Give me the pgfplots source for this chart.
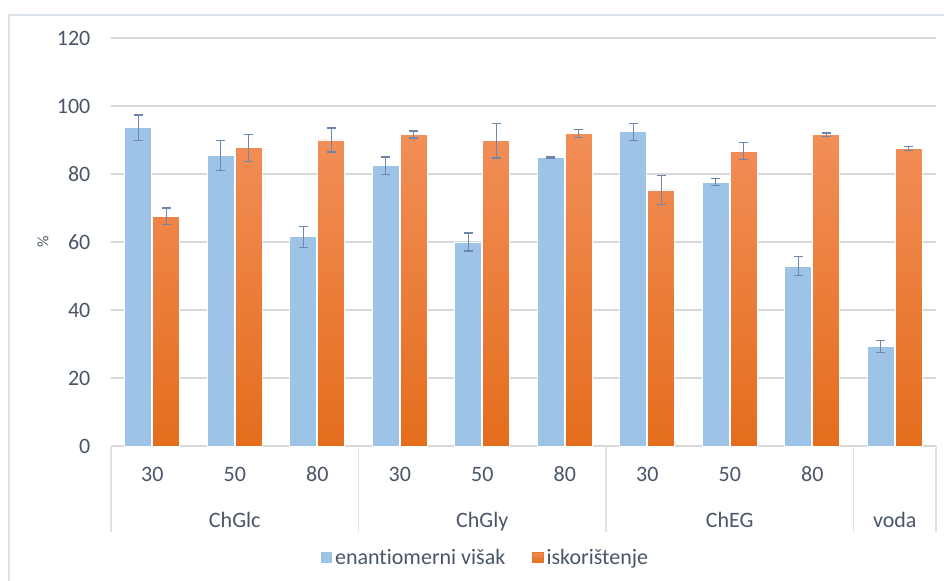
\documentclass[border=0pt]{standalone}
\usepackage{pgfplots}
\pgfplotsset{compat=1.18}
\usepackage{fontspec}
\setmainfont{Carlito}[Ligatures={NoCommon}]
\definecolor{blueb}{HTML}{9DC3E6}
\definecolor{orT}{HTML}{F28E58}
\definecolor{orB}{HTML}{E46D1C}
\definecolor{orL}{HTML}{EC7628}
\definecolor{txt}{HTML}{4A5568}
\definecolor{gridc}{HTML}{D9D9D9}
\definecolor{errc}{HTML}{6E86AA}
\definecolor{sepc}{HTML}{DDE3EA}
\begin{document}
\begin{tikzpicture}[font=\fontsize{11}{13}\selectfont]
\begin{axis}[name=ax, at={(0,0)}, anchor=south west,
  scale only axis, width=412.5pt, height=204pt,
  xmin=-0.5, xmax=9.5, ymin=0, ymax=120,
  ytick={0,20,...,120}, xtick=\empty,
  ymajorgrids, grid style={gridc, line width=0.8pt},
  major tick length=0pt,
  axis line style={draw=none},
  tick label style={font=\fontsize{11}{13}\selectfont},
  yticklabel style={text=txt, xshift=-6.8pt},
  /pgf/number format/assume math mode=true,
  ybar, bar width=13.5pt,
  clip=false,
  legend columns=2,
  legend style={at={(0.4545,-0.275)}, anchor=center, draw=none, fill=none,
    font=\fontsize{11}{13}\selectfont, text=txt,
    nodes={inner sep=1.5pt},
    /tikz/every even column/.append style={column sep=12pt}},
]
\addplot[bar shift=-7pt, fill=blueb, draw=white, line width=0.4pt,
  legend image code/.code={\fill[blueb] (0pt,-2.3pt) rectangle (5.2pt,2.9pt);},
  error bars/.cd, y dir=both, y explicit,
  error bar style={errc, line width=0.7pt},
  error mark options={rotate=90, errc, mark size=2.3pt, line width=0.7pt}]
  coordinates {
  (0,93.6) +- (0,3.8)
  (1,85.4) +- (0,4.4)
  (2,61.5) +- (0,3.1)
  (3,82.4) +- (0,2.6)
  (4,60.0) +- (0,2.6)
  (5,84.9) +- (0,0.2)
  (6,92.4) +- (0,2.5)
  (7,77.6) +- (0,1.0)
  (8,52.9) +- (0,2.8)
  (9,29.3) +- (0,1.8)
  };
\addlegendentry{enantiomerni višak}
\addplot[bar shift=7pt, top color=orT, bottom color=orB, draw=white, line width=0.4pt,
  legend image code/.code={\fill[orL] (0pt,-2.3pt) rectangle (5.2pt,2.9pt);},
  error bars/.cd, y dir=both, y explicit,
  error bar style={errc, line width=0.7pt},
  error mark options={rotate=90, errc, mark size=2.3pt, line width=0.7pt}]
  coordinates {
  (0,67.6) +- (0,2.4)
  (1,87.7) +- (0,4.0)
  (2,90.0) +- (0,3.5)
  (3,91.6) +- (0,1.0)
  (4,89.8) +- (0,5.1)
  (5,91.9) +- (0,1.1)
  (6,75.3) +- (0,4.2)
  (7,86.7) +- (0,2.5)
  (8,91.6) +- (0,0.5)
  (9,87.5) +- (0,0.6)
  };
\addlegendentry{iskorištenje}
% category separators
\draw[sepc, line width=0.8pt] (axis cs:-0.5,0) -- ([yshift=-43pt]axis cs:-0.5,0);
\draw[sepc, line width=0.8pt] (axis cs:2.5,0) -- ([yshift=-43pt]axis cs:2.5,0);
\draw[sepc, line width=0.8pt] (axis cs:5.5,0) -- ([yshift=-43pt]axis cs:5.5,0);
\draw[sepc, line width=0.8pt] (axis cs:8.5,0) -- ([yshift=-43pt]axis cs:8.5,0);
\draw[sepc, line width=0.8pt] (axis cs:9.5,0) -- ([yshift=-43pt]axis cs:9.5,0);
% level-1 labels
\node[anchor=base, text=txt] at ([yshift=-18pt]axis cs:0,0) {30};
\node[anchor=base, text=txt] at ([yshift=-18pt]axis cs:1,0) {50};
\node[anchor=base, text=txt] at ([yshift=-18pt]axis cs:2,0) {80};
\node[anchor=base, text=txt] at ([yshift=-18pt]axis cs:3,0) {30};
\node[anchor=base, text=txt] at ([yshift=-18pt]axis cs:4,0) {50};
\node[anchor=base, text=txt] at ([yshift=-18pt]axis cs:5,0) {80};
\node[anchor=base, text=txt] at ([yshift=-18pt]axis cs:6,0) {30};
\node[anchor=base, text=txt] at ([yshift=-18pt]axis cs:7,0) {50};
\node[anchor=base, text=txt] at ([yshift=-18pt]axis cs:8,0) {80};
% level-2 labels
\node[anchor=base, text=txt] at ([yshift=-40.75pt]axis cs:1,0) {ChGlc};
\node[anchor=base, text=txt] at ([yshift=-40.75pt]axis cs:4,0) {ChGly};
\node[anchor=base, text=txt] at ([yshift=-40.75pt]axis cs:7,0) {ChEG};
\node[anchor=base, text=txt] at ([yshift=-40.75pt]axis cs:9,0) {voda};
% y label
\node[rotate=90, text=txt, font=\fontsize{8}{9}\selectfont] at ([xshift=-34pt]rel axis cs:0,0.5) {\%};
\end{axis}
\pgfresetboundingbox
\path[use as bounding box] ([xshift=-55.5pt,yshift=-67.5pt]ax.south west) rectangle ([xshift=416.5pt,yshift=223pt]ax.south west);
\draw[sepc, line width=1pt] ([xshift=-50.75pt,yshift=-67.5pt]ax.south west) -- ([xshift=-50.75pt,yshift=215.5pt]ax.south west) -- ([xshift=416.5pt,yshift=215.5pt]ax.south west);
\end{tikzpicture}
\end{document}
